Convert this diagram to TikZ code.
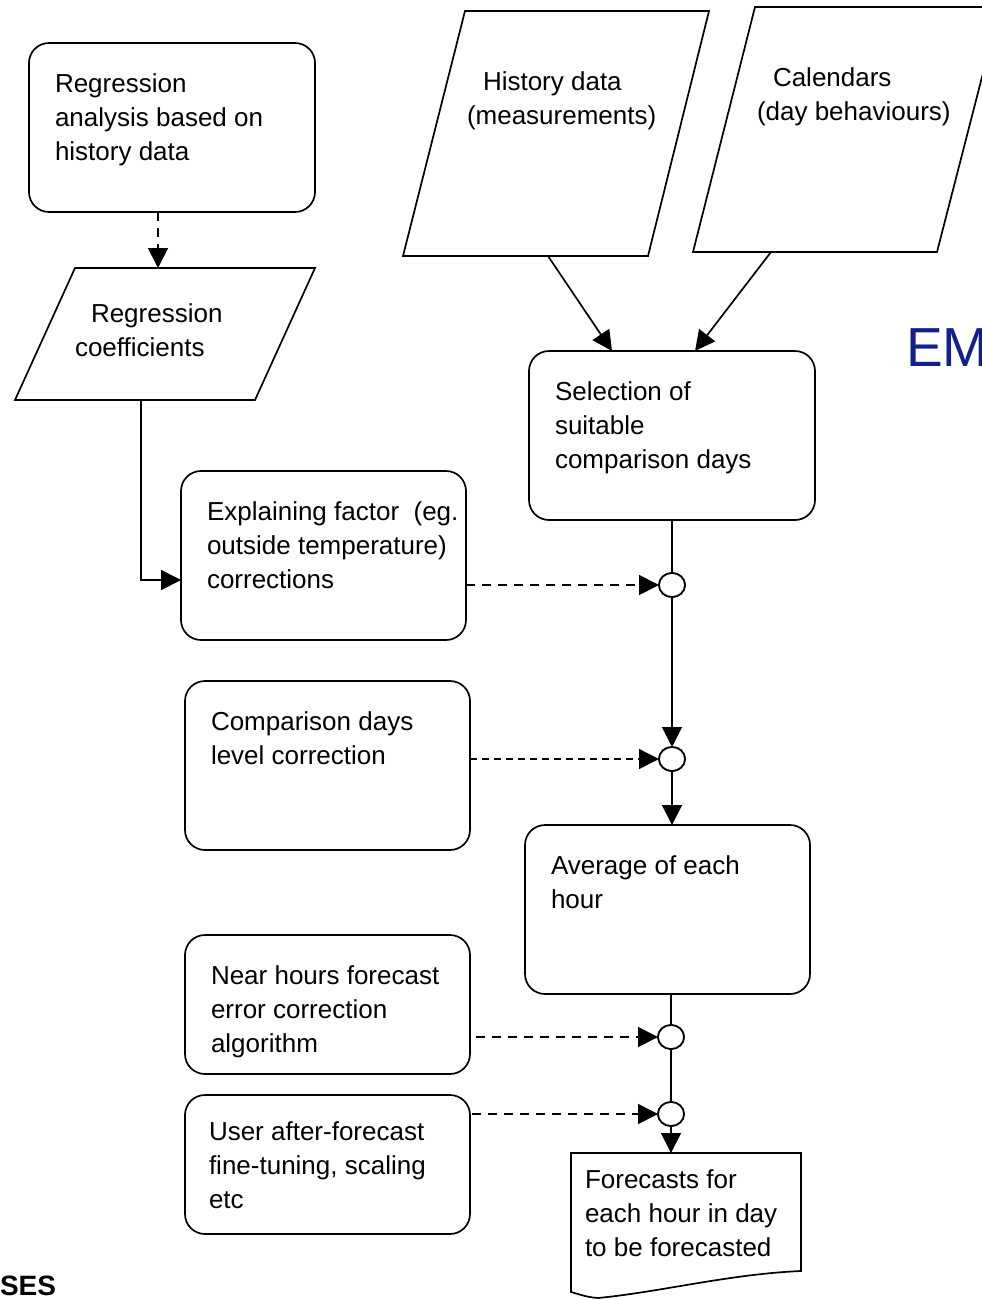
\documentclass[tikz,border=0pt]{standalone}
\usepackage{fontspec}
\setmainfont{Liberation Sans}
\usetikzlibrary{arrows.meta,shapes.geometric,calc}
\definecolor{emblue}{RGB}{18,32,140}
\newcommand{\mylines}[1]{\begin{tabular}[t]{@{}l@{}}#1\end{tabular}}
\begin{document}
\begin{tikzpicture}[x=1pt,y=-1pt,
  every node/.style={inner sep=0pt, outer sep=0pt},
  rbox/.style={draw, line width=1.7pt, rounded corners=20pt, rectangle},
  para/.style={draw, line width=1.7pt, line join=miter},
  txt/.style={anchor=base west, font=\fontsize{26}{34}\selectfont},
  jn/.style={draw, line width=1.7pt, ellipse, minimum width=26pt, minimum height=24pt, fill=white},
  ln/.style={line width=1.7pt},
  arr/.style={line width=1.7pt, -{Triangle[length=20pt,width=20pt]}},
  darr/.style={arr, dash pattern=on 9pt off 7pt},
  darrthin/.style={line width=1.3pt, -{Triangle[length=20pt,width=20pt]}, dash pattern=on 7pt off 5pt}]
\useasboundingbox (0,0) rectangle (982,1299);
\clip (0,0) rectangle (982,1299);

% rounded boxes
\node[rbox, minimum width=286pt, minimum height=169pt] (reg) at (172,127.5) {};
\node[rbox, minimum width=285pt, minimum height=169pt] (exp) at (323.5,555.5) {};
\node[rbox, minimum width=286pt, minimum height=169pt] (sel) at (672,435.5) {};
\node[rbox, minimum width=285pt, minimum height=169pt] (cmp) at (327.5,765.5) {};
\node[rbox, minimum width=285pt, minimum height=169pt] (avg) at (667.5,909.5) {};
\node[rbox, minimum width=285pt, minimum height=139pt] (near) at (327.5,1004.5) {};
\node[rbox, minimum width=285pt, minimum height=139pt] (user) at (327.5,1164.5) {};

% box texts
\node[txt] (regt) at (55,92) {\mylines{Regression\\analysis based on\\history data}};
\node[txt] (expt) at (207,520) {\mylines{Explaining factor\ \ (eg.\\outside temperature)\\corrections}};
\node[txt] (selt) at (555,400) {\mylines{Selection of\\suitable\\comparison days}};
\node[txt] (cmpt) at (211,730) {\mylines{Comparison days\\level correction}};
\node[txt] (avgt) at (551,874) {\mylines{Average of each\\hour}};
\node[txt] (neart) at (211,984) {\mylines{Near hours forecast\\error correction\\algorithm}};
\node[txt] (usert) at (209,1140) {\mylines{User after-forecast\\fine-tuning, scaling\\etc}};

% parallelograms
\draw[para] (75,268) -- (315,268) -- (255,400) -- (15,400) -- cycle;
\node[txt] (rct1) at (91,322) {Regression};
\node[txt] (rct2) at (75,356) {coefficients};
\coordinate (rctop) at (158,268);
\coordinate (rcbot) at (141,400);

\draw[para] (465,11) -- (709,11) -- (648,256) -- (403,256) -- cycle;
\node[txt] (hdt1) at (483,90) {History data};
\node[txt] (hdt2) at (467,124) {(measurements)};
\coordinate (hdout) at (548,256);

\draw[para] (755,7) -- (1000,7) -- (937,252) -- (693,252) -- cycle;
\node[txt] (calt1) at (773,86) {Calendars};
\node[txt] (calt2) at (757,120) {(day behaviours)};
\coordinate (calout) at (771,252);

% document shape
\node[minimum width=230pt, minimum height=145pt, anchor=north west] (fc) at (571,1153) {};
\draw[ln] (fc.north west) -- (fc.north east) -- (801,1271)
  .. controls (730,1274) and (660,1292) .. (598,1298)
  .. controls (588,1297) .. (571,1292) -- cycle;
\node[txt] (fct) at (585,1188) {\mylines{Forecasts for\\each hour in day\\to be forecasted}};

% junctions
\node[jn] (j1) at (672,585) {};
\node[jn] (j2) at (672,759) {};
\node[jn] (j3) at (671,1037) {};
\node[jn] (j4) at (671,1114) {};

% connectors
\draw[darr] (reg.south -| rctop) -- (rctop);
\draw[arr] (rcbot) |- ($(exp.west)+(0,24.5)$);
\draw[arr] (hdout) -- ($(sel.north west)+(83,0)$);
\draw[arr] (calout) -- ($(sel.north west)+(166,0)$);
\draw[ln] (sel.south) -- (j1.north);
\draw[arr] (j1.south) -- (j2.north);
\draw[arr] (j2.south) -- (j2.south |- avg.north);
\draw[ln] (j3.north |- avg.south) -- (j3.north);
\draw[ln] (j3.south) -- (j4.north);
\draw[arr] (j4.south) -- (j4.south |- fc.north);
\draw[darr] (exp.east |- j1.west) -- (j1.west);
\draw[darrthin] (cmp.east |- j2.west) -- (j2.west);
\draw[darr] ($(near.east |- j3.west)+(6,0)$) -- (j3.west);
\draw[darr] ($(user.east |- j4.west)+(2,0)$) -- (j4.west);

% redraw junctions on top
\node[jn] at (j1) {};
\node[jn] at (j2) {};
\node[jn] at (j3) {};
\node[jn] at (j4) {};

% fragments
\node[anchor=base west, font=\fontsize{55}{60}\selectfont, text=emblue] (em) at (906,366) {EM};
\node[anchor=base west, font=\fontsize{28}{30}\selectfont\bfseries] (ses) at (0,1295) {SES};
\end{tikzpicture}
\end{document}
